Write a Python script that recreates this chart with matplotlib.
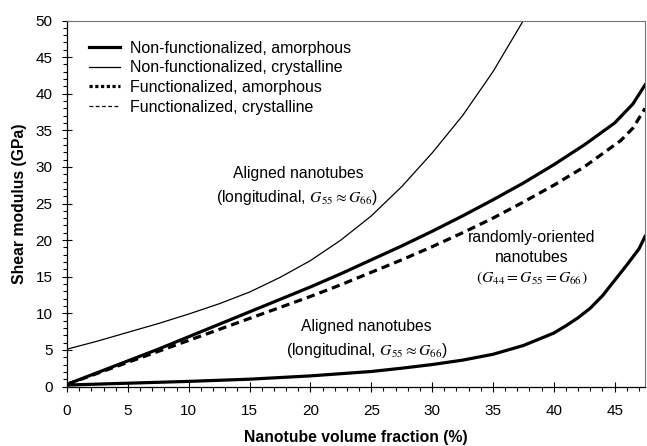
import numpy as np
import matplotlib
matplotlib.use("Agg")
import matplotlib.pyplot as plt
from matplotlib.lines import Line2D
from matplotlib.ticker import MultipleLocator

plt.rcParams['font.family'] = ['Liberation Sans', 'DejaVu Sans']
plt.rcParams['mathtext.fontset'] = 'stix'

# Data
# Non-functionalized, crystalline (aligned, longitudinal)
x_cryst = [0, 2.5, 5, 7.5, 10, 12.5, 15, 17.5, 20, 22.5, 25, 27.5, 30, 32.5, 35, 37.5]
g_cryst = [5.1, 6.2, 7.4, 8.6, 9.9, 11.3, 12.9, 14.9, 17.2, 20.0, 23.3, 27.3, 31.9, 37.0, 43.0, 50.0]

# Non-functionalized, amorphous (randomly-oriented)
x_rand = [0, 2.5, 5, 7.5, 10, 12.5, 15, 17.5, 20, 22.5, 25, 27.5, 30, 32.5, 35, 37.5,
          40, 42.5, 45, 46.5, 47.5]
g_rand = [0.3, 1.9, 3.5, 5.1, 6.8, 8.5, 10.2, 11.9, 13.6, 15.4, 17.3, 19.2, 21.2, 23.3,
          25.5, 27.8, 30.3, 33.0, 36.0, 38.6, 41.2]

# Functionalized, amorphous (randomly-oriented)
x_func = [0, 2.5, 5, 7.5, 10, 12.5, 15, 17.5, 20, 22.5, 25, 27.5, 30, 32.5, 35, 37.5,
          40, 42.5, 44, 45.5, 46.5, 47.5]
g_func = [0.3, 1.8, 3.3, 4.8, 6.3, 7.8, 9.3, 10.8, 12.3, 13.9, 15.6, 17.3, 19.1, 21.0,
          23.0, 25.2, 27.5, 30.0, 31.8, 33.6, 35.3, 38.0]

# Non-functionalized, amorphous (aligned, longitudinal)
x_align = [0, 5, 10, 15, 20, 25, 27.5, 30, 32.5, 35, 37.5, 40, 41, 42, 43, 44, 45, 46, 47, 47.5]
g_align = [0.2, 0.45, 0.7, 1.0, 1.45, 2.05, 2.5, 3.0, 3.6, 4.4, 5.6, 7.3, 8.3, 9.4, 10.7,
           12.4, 14.5, 16.6, 18.8, 20.5]

legend_labels = ['Non-functionalized, amorphous', 'Non-functionalized, crystalline',
                 'Functionalized, amorphous', 'Functionalized, crystalline']

fig = plt.figure(figsize=(6.47, 4.46), dpi=100)
ax = fig.add_axes([0.1036, 0.1334, 0.8934, 0.8206])

thick_dash = (0, (2.6, 1.6))
ax.plot(x_cryst, g_cryst, color='black', lw=0.9)
ax.plot(x_rand, g_rand, color='black', lw=2.3)
ax.plot(x_func, g_func, color='black', lw=2.3, linestyle=thick_dash)
ax.plot(x_align, g_align, color='black', lw=2.3)

ax.set_xlim(0, 47.5)
ax.set_ylim(0, 50)
ax.xaxis.set_major_locator(MultipleLocator(5))
ax.xaxis.set_minor_locator(MultipleLocator(1))
ax.yaxis.set_major_locator(MultipleLocator(5))
ax.yaxis.set_minor_locator(MultipleLocator(1))
ax.tick_params(axis='both', which='major', direction='inout', length=7, width=0.8,
               labelsize=11)
ax.tick_params(axis='x', which='major', pad=9)
ax.tick_params(axis='y', which='major', pad=7)
ax.tick_params(axis='both', which='minor', direction='out', length=3, width=0.8)
for side in ['top', 'right']:
    ax.spines[side].set_color('0.45')
    ax.spines[side].set_linewidth(0.8)
for side in ['left', 'bottom']:
    ax.spines[side].set_linewidth(0.9)

ax.set_xlabel('Nanotube volume fraction (%)', fontsize=11.3, fontweight='bold', labelpad=9)
ax.set_ylabel('Shear modulus (GPa)', fontsize=11.3, fontweight='bold', labelpad=6)

handles = [Line2D([], [], color='black', lw=2.3),
           Line2D([], [], color='black', lw=0.9),
           Line2D([], [], color='black', lw=2.3, linestyle=(0, (1.0, 0.8))),
           Line2D([], [], color='black', lw=0.9, linestyle=(0, (3, 2)))]
ax.legend(handles, legend_labels, loc='upper left', frameon=False, fontsize=11.5,
          handlelength=1.95, handletextpad=0.6, labelspacing=0.29,
          borderpad=0, borderaxespad=0, bbox_to_anchor=(0.038, 0.945))

fs = 11.3
ax.text(19.0, 29.1, 'Aligned nanotubes', ha='center', va='center', fontsize=fs)
ax.text(18.9, 25.8, r'(longitudinal, $G_{55} \approx G_{66}$)', ha='center', va='center', fontsize=fs)
ax.text(38.2, 20.4, 'randomly-oriented', ha='center', va='center', fontsize=fs)
ax.text(38.2, 17.6, 'nanotubes', ha='center', va='center', fontsize=fs)
ax.text(38.2, 14.8, r'$(G_{44} = G_{55} = G_{66})$', ha='center', va='center', fontsize=fs)
ax.text(24.6, 8.2, 'Aligned nanotubes', ha='center', va='center', fontsize=fs)
ax.text(24.6, 4.9, r'(longitudinal, $G_{55} \approx G_{66}$)', ha='center', va='center', fontsize=fs)

fig.savefig('out.png', dpi=100)
